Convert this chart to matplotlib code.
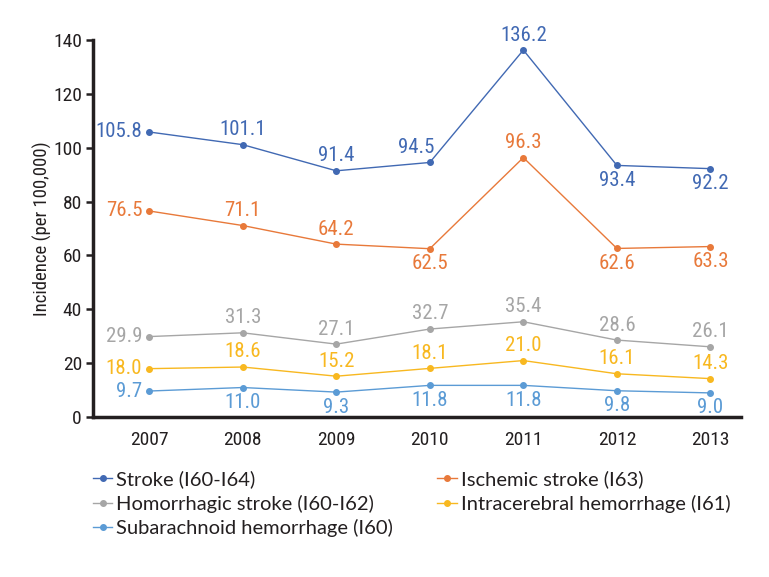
import matplotlib
matplotlib.use("Agg")
import matplotlib.pyplot as plt
from matplotlib.lines import Line2D
from matplotlib import font_manager

years = [2007, 2008, 2009, 2010, 2011, 2012, 2013]
stroke = [105.8, 101.1, 91.4, 94.5, 136.2, 93.4, 92.2]
ischemic = [76.5, 71.1, 64.2, 62.5, 96.3, 62.6, 63.3]
hemorrhagic = [29.9, 31.3, 27.1, 32.7, 35.4, 28.6, 26.1]
intracerebral = [18.0, 18.6, 15.2, 18.1, 21.0, 16.1, 14.3]
subarachnoid = [9.7, 11.0, 9.3, 11.8, 11.8, 9.8, 9.0]
names = ["Stroke (I60-I64)", "Ischemic stroke (I63)", "Homorrhagic stroke (I60-I62)",
         "Intracerebral hemorrhage (I61)", "Subarachnoid hemorrhage (I60)"]
yticks = [0, 20, 40, 60, 80, 100, 120, 140]

series = [stroke, ischemic, hemorrhagic, intracerebral, subarachnoid]
colors = ["#4169b3", "#e8793a", "#a6a6a6", "#f8b820", "#5b9bd5"]
placements = [
    ["L", "A", "A", "A", "A", "B", "B"],
    ["L", "A", "A", "B", "A", "B", "B"],
    ["L", "A", "A", "A", "A", "A", "A"],
    ["L", "A", "A", "A", "A", "A", "A"],
    ["L", "B", "B", "B", "B", "B", "B"],
]

available = {f.name for f in font_manager.fontManager.ttflist}
narrow = None
for cand in ["Roboto Condensed", "Liberation Sans Narrow", "DejaVu Sans Condensed",
             "Open Sans Condensed", "Noto Sans Condensed"]:
    if cand in available:
        narrow = cand
        break
stretch = "normal"
if narrow is None:
    narrow = "DejaVu Sans"
    stretch = "condensed"
plt.rcParams["font.family"] = [narrow, "DejaVu Sans"]
plt.rcParams["font.stretch"] = stretch
LEGEND_FONT = ["Lato", "DejaVu Sans"]
TXT = "#231f20"

fig = plt.figure(figsize=(7.69, 5.77), dpi=100)
ax = fig.add_axes([0.121, 0.277, 0.843, 0.654])

FS = 15
for vals, c, pl in zip(series, colors, placements):
    ax.plot(years, vals, color=c, lw=1.0, marker="o", ms=4, zorder=3)
    for x, v, p in zip(years, vals, pl):
        if p == "L":
            ax.annotate(f"{v:.1f}", (x, v), xytext=(-5, 0), textcoords="offset points",
                        ha="right", va="center", color=c, fontsize=FS)
        elif p == "A":
            dx = -10 if (c == colors[0] and x == 2010) else 0
            ax.annotate(f"{v:.1f}", (x, v), xytext=(dx, 4), textcoords="offset points",
                        ha="center", va="bottom", color=c, fontsize=FS)
        else:
            ax.annotate(f"{v:.1f}", (x, v), xytext=(0, -4), textcoords="offset points",
                        ha="center", va="top", color=c, fontsize=FS)

ax.set_xlim(2006.4, 2013.33)
ax.set_ylim(0, 140)
ax.set_yticks(yticks)
ax.set_xticks(years)
ax.tick_params(axis="y", length=5, width=1.8, labelsize=14, direction="out", pad=3,
               colors=TXT)
ax.tick_params(axis="x", length=0, labelsize=14, pad=10, colors=TXT)
for s in ["top", "right"]:
    ax.spines[s].set_visible(False)
for s in ["left", "bottom"]:
    ax.spines[s].set_linewidth(2.5)
    ax.spines[s].set_color(TXT)
ax.set_ylabel("Incidence (per 100,000)", fontsize=13.5, labelpad=1, color=TXT)

handles = [Line2D([], [], color=c, lw=1.0, marker="o", ms=4) for c in colors]
order = [0, 2, 4, 1, 3]
fig.legend([handles[i] for i in order], [names[i] for i in order], ncol=2,
           loc="upper left", bbox_to_anchor=(0.121, 0.185),
           frameon=False, prop={"family": LEGEND_FONT, "size": 14.5},
           handlelength=0.95, handletextpad=0.2, borderpad=0,
           columnspacing=2.2, labelspacing=0.32, borderaxespad=0,
           labelcolor=TXT)

fig.savefig("out.png", dpi=100)
